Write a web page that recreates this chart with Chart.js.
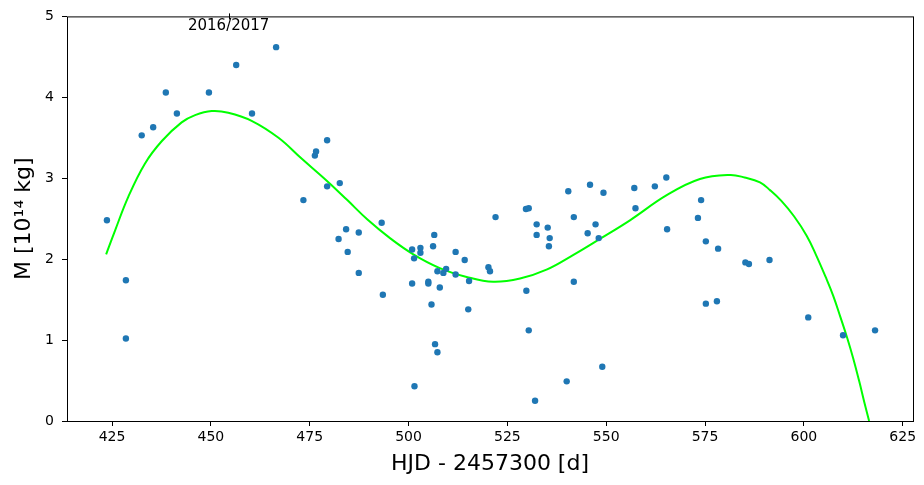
<!DOCTYPE html>
<html><head><meta charset="utf-8">
<script src="https://cdn.jsdelivr.net/npm/chart.js@4/dist/chart.umd.min.js"></script>
<style>html,body{margin:0;padding:0;background:#fff}</style></head>
<body><canvas id="c" width="924" height="485"></canvas>
<script>
// Observations: day (HJD - 2457300) and mass (10^14 kg)
const obsDay = [423.7,428.5,428.5,432.5,435.4,438.6,441.4,449.5,456.4,460.4,466.5,473.4,476.3,476.6,479.4,479.4,482.6,482.3,484.2,484.6,487.4,487.4,493.2,493.5,500.9,500.9,501.4,501.5,503.0,503.0,505.0,505.0,505.8,506.2,506.5,506.7,507.3,507.3,507.9,508.8,509.5,511.9,511.9,514.2,515.1,515.3,520.2,520.6,522.0,529.7,530.4,529.8,530.4,532.0,532.4,532.4,535.2,535.7,535.5,540.0,541.8,541.8,545.3,547.3,548.1,549.0,540.4,545.9,549.3,557.1,557.4,562.3,565.2,574.0,573.2,565.4,575.2,578.3,575.2,578.0,585.2,586.1,591.3,601.1,609.9,618.0];
const obsMass = [2.48,1.74,1.02,3.53,3.63,4.06,3.80,4.06,4.40,3.80,4.62,2.73,3.28,3.33,3.47,2.90,2.94,2.25,2.37,2.09,2.33,1.83,2.45,1.56,2.12,1.70,2.01,0.43,2.14,2.08,1.72,1.70,1.44,2.16,2.30,0.95,0.85,1.85,1.65,1.83,1.88,2.09,1.81,1.99,1.38,1.73,1.90,1.85,2.52,2.62,2.63,1.61,1.12,0.25,2.43,2.30,2.39,2.26,2.16,0.49,2.52,1.72,2.32,2.43,2.26,0.67,2.84,2.92,2.82,2.88,2.63,2.90,3.01,2.73,2.51,2.37,2.22,2.13,1.45,1.48,1.96,1.94,1.99,1.28,1.06,1.12];
// Fitted curve
const fitDay  = [423.5,425.8,429.1,433.3,437.6,442.6,446.0,450.2,454.4,460.3,467.1,473.0,479.3,484.5,489.6,495.3,501.2,507.9,514.7,521.4,528.2,534.9,541.6,548.4,556.0,565.3,573.7,581.3,585.0,588.9,591.5,594.3,597.5,600.7,603.0,605.5,607.4,609.2,611.0,612.5,614.0,615.3,616.5];
const fitMass = [2.06,2.36,2.77,3.18,3.46,3.69,3.78,3.83,3.81,3.71,3.50,3.24,2.97,2.73,2.49,2.26,2.06,1.89,1.78,1.72,1.76,1.87,2.05,2.25,2.48,2.79,2.99,3.04,3.01,2.95,2.85,2.72,2.53,2.29,2.06,1.78,1.55,1.29,1.02,0.77,0.49,0.23,0.00];
const xTicks = [425,450,475,500,525,550,575,600,625];
const yTicks = [0,1,2,3,4,5];
const yearMarkDay = 454.5;
const yearMarkLabel = '2016/2017';

Chart.defaults.font.family = "'DejaVu Sans', sans-serif";
Chart.defaults.color = '#000';

const framePlugin = {
  id: 'frame',
  afterDatasetsDraw(chart) {
    const {ctx, chartArea: a} = chart;
    ctx.save();
    ctx.strokeStyle = '#000';
    ctx.lineWidth = 1;
    ctx.strokeRect(a.left + 0.5, a.top + 0.5, a.right - a.left, a.bottom - a.top);
    const x = chart.scales.x.getPixelForValue(yearMarkDay);
    ctx.beginPath();
    ctx.moveTo(Math.round(x) + 0.5, a.top - 3);
    ctx.lineTo(Math.round(x) + 0.5, a.top + 3);
    ctx.stroke();
    ctx.fillStyle = '#000';
    ctx.font = "15px 'DejaVu Sans'";
    ctx.textAlign = 'center';
    ctx.textBaseline = 'middle';
    ctx.fillText(yearMarkLabel, x, a.top + 10);
    ctx.restore();
  }
};

new Chart(document.getElementById('c'), {
  type: 'scatter',
  data: {
    datasets: [
      {
        label: 'fit',
        data: fitDay.map((d, i) => ({x: d, y: fitMass[i]})),
        showLine: true,
        borderColor: '#00ff00',
        borderWidth: 2,
        pointRadius: 0,
        tension: 0.4,
        order: 2
      },
      {
        label: 'M',
        data: obsDay.map((d, i) => ({x: d, y: obsMass[i]})),
        backgroundColor: '#1f77b4',
        borderWidth: 0,
        pointRadius: 3.2,
        order: 1
      }
    ]
  },
  options: {
    responsive: false,
    animation: false,
    devicePixelRatio: 1,
    layout: {padding: {top: 13, right: 11, left: 0, bottom: 0}},
    plugins: {legend: {display: false}, tooltip: {enabled: false}},
    scales: {
      x: {
        type: 'linear',
        min: 413.6, max: 627.6,
        afterBuildTicks: s => { s.ticks = xTicks.map(v => ({value: v})); },
        afterFit: s => { s.height = 64; },
        grid: {drawOnChartArea: false, drawTicks: true, tickLength: 5, color: '#000'},
        border: {display: false},
        ticks: {font: {size: 14}, padding: 3, maxRotation: 0, autoSkip: false},
        title: {display: true, text: 'HJD - 2457300 [d]', font: {size: 22}, padding: {top: 0, bottom: 8}}
      },
      y: {
        type: 'linear',
        min: 0, max: 5,
        afterBuildTicks: s => { s.ticks = yTicks.map(v => ({value: v})); },
        afterFit: s => { s.width = 67; },
        grid: {drawOnChartArea: false, drawTicks: true, tickLength: 5, color: '#000'},
        border: {display: false},
        ticks: {font: {size: 14}, padding: 8},
        title: {display: true, text: 'M [10¹⁴ kg]', font: {size: 22}, padding: {top: 11, bottom: 0}}
      }
    }
  },
  plugins: [framePlugin]
});
</script>
</body></html>
